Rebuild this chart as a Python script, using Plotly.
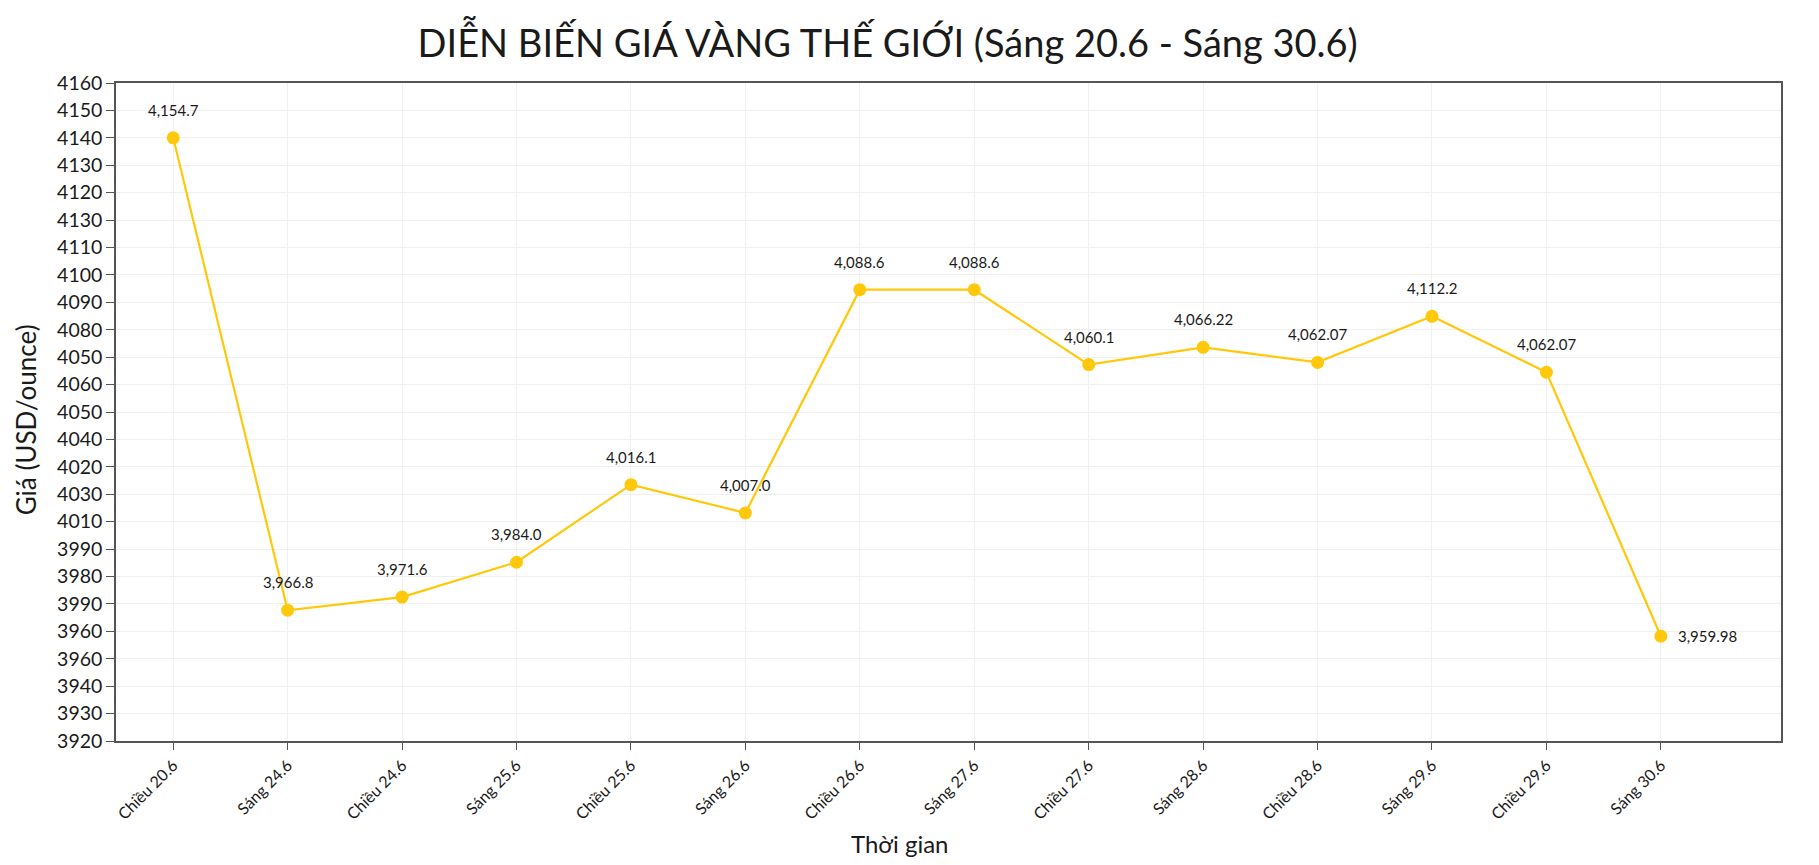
import plotly.graph_objects as go

categories = ["Chiều 20.6", "Sáng 24.6", "Chiều 24.6", "Sáng 25.6", "Chiều 25.6",
              "Sáng 26.6", "Chiều 26.6", "Sáng 27.6", "Chiều 27.6", "Sáng 28.6",
              "Chiều 28.6", "Sáng 29.6", "Chiều 29.6", "Sáng 30.6"]
# plotted positions of the points (as drawn on the chart's axis)
price_plot = [4140, 3967.7, 3972.5, 3985.2, 4013.5, 4003.2, 4084.6, 4084.6,
              4057.3, 4063.6, 4058.1, 4074.9, 4054.5, 3958.2]
# value labels written next to the points
price_labels = ["4,154.7", "3,966.8", "3,971.6", "3,984.0", "4,016.1", "4,007.0",
                "4,088.6", "4,088.6", "4,060.1", "4,066.22", "4,062.07", "4,112.2",
                "4,062.07", "3,959.98"]
# y tick labels as printed, bottom to top
y_tick_text = ["3920", "3930", "3940", "3960", "3960", "3990", "3980", "3990",
               "4010", "4030", "4020", "4040", "4050", "4060", "4050", "4080",
               "4090", "4100", "4110", "4130", "4120", "4130", "4140", "4150", "4160"]
y_tick_vals = [3920 + 10 * i for i in range(len(y_tick_text))]

FONT = "Lato"
GOLD = "#FFC80A"
TXT = "#1a1a1a"

x_idx = list(range(len(categories)))

fig = go.Figure()
fig.add_trace(go.Scatter(
    x=x_idx, y=price_plot, mode="lines+markers",
    line=dict(color=GOLD, width=2.2),
    marker=dict(color=GOLD, size=13),
    hoverinfo="skip", showlegend=False,
))

for i, (v, lab) in enumerate(zip(price_plot, price_labels)):
    if i == len(price_plot) - 1:
        fig.add_annotation(x=i, y=v, text=lab, showarrow=False,
                           xanchor="left", yanchor="middle", xshift=15,
                           font=dict(family=FONT, size=15, color=TXT))
    else:
        fig.add_annotation(x=i, y=v, text=lab, showarrow=False,
                           xanchor="center", yanchor="bottom", yshift=17,
                           font=dict(family=FONT, size=15, color=TXT))

# axis titles placed as in the reference
fig.add_annotation(xref="paper", yref="paper", x=0.471, y=0, yshift=-102,
                   xanchor="center", yanchor="middle", showarrow=False,
                   text="Thời gian", font=dict(family=FONT, size=24, color=TXT))
fig.add_annotation(xref="paper", yref="paper", x=-0.0544, y=0.488,
                   xanchor="center", yanchor="middle", showarrow=False, textangle=-90,
                   text="Giá (USD/ounce)", font=dict(family=FONT, size=26, color=TXT))

fig.update_layout(
    width=1819, height=865,
    margin=dict(l=116, r=38, t=83, b=124),
    paper_bgcolor="white", plot_bgcolor="white",
    title=dict(text="DIỄN BIẾN GIÁ VÀNG THẾ GIỚI (Sáng 20.6 - Sáng 30.6)",
               x=0.488, xanchor="center", y=0.95, yanchor="middle",
               font=dict(family=FONT, size=38, color=TXT)),
    font=dict(family=FONT, color=TXT),
)
fig.update_xaxes(
    range=[-0.5, 14.05], tickmode="array", tickvals=x_idx, ticktext=categories,
    tickangle=-45, tickfont=dict(family=FONT, size=16, color=TXT),
    ticks="outside", ticklen=7, tickcolor="#555",
    showgrid=True, gridcolor="#f0f0f0", gridwidth=1,
    showline=True, linecolor="#555", linewidth=1.5, mirror=True,
    zeroline=False,
)
fig.update_yaxes(
    range=[3920, 4160], tickmode="array", tickvals=y_tick_vals, ticktext=y_tick_text,
    tickfont=dict(family=FONT, size=19.5, color=TXT),
    ticks="outside", ticklen=8, tickcolor="#555",
    showgrid=True, gridcolor="#f0f0f0", gridwidth=1,
    showline=True, linecolor="#555", linewidth=1.5, mirror=True,
    zeroline=False,
)

fig.write_html("out.html")
